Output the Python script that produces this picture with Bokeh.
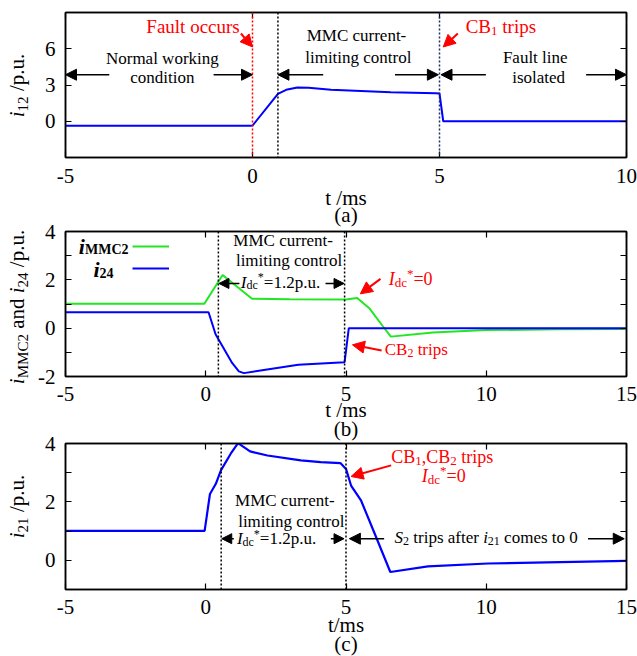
from bokeh.plotting import figure
from bokeh.models import (Span, Arrow, NormalHead, Label, LinearAxis, FixedTicker,
                          Range1d, Legend, LegendItem)
from bokeh.core.properties import value
from bokeh.layouts import column, row
from bokeh.embed import file_html
from bokeh.resources import INLINE

# ---------------- data ----------------
# (a) fault-line current i12
t_a = [-5.0, -0.05, 0.0, 0.68, 0.9, 1.2, 1.5, 2.1, 3.7, 4.9, 5.0, 5.1, 10.0]
i12 = [-0.38, -0.38, -0.36, 2.27, 2.6, 2.8, 2.78, 2.6, 2.4, 2.32, 2.3, 0.0, 0.0]

# (b) MMC2 current and i24
t_mmc2 = [-5.0, -0.05, 0.6, 1.65, 3.0, 5.0, 5.4, 5.85, 6.3, 6.6, 8.1, 10.0, 12.5, 15.0]
i_mmc2 = [1.01, 1.01, 2.2, 1.22, 1.2, 1.19, 1.25, 0.8, 0.1, -0.35, -0.18, -0.08, -0.05, -0.03]
t_24 = [-5.0, 0.1, 0.35, 0.94, 1.18, 1.36, 2.13, 3.3, 4.95, 5.1, 15.0]
i24 = [0.66, 0.66, -0.25, -1.44, -1.79, -1.86, -1.72, -1.51, -1.41, 0.0, 0.0]

# (c) current i21
t_c = [-5.0, -0.04, 0.15, 0.36, 0.54, 0.89, 1.15, 1.58, 2.2, 3.39, 4.1, 4.8, 5.0,
       5.18, 5.54, 6.05, 6.58, 7.92, 10.06, 15.0]
i21 = [1.01, 1.01, 2.27, 2.62, 3.08, 3.65, 4.01, 3.73, 3.59, 3.42, 3.36, 3.33, 3.13,
       2.56, 2.04, 0.85, -0.4, -0.21, -0.11, -0.02]

xticks_a = [-5, 0, 5, 10]
yticks_a = [0, 3, 6]
xticks_bc = [-5, 0, 5, 10, 15]
yticks_b = [-2, 0, 2, 4]
yminor_b = [-1, 1, 3]
yticks_c = [0, 2, 4]
yminor_c = [1, 3]

# event times (ms)
t_fault = 0.0
t_ctrl_a = 0.68
t_ctrl_b = 0.45
t_ctrl_c = 0.55
t_trip = 5.0

FONT = "Liberation Serif"
BLUE = "#0000ff"
GREEN = "#22e622"
RED = "#ff0000"
NAVY = "#1c2d6b"
SHIFT = 6  # baseline correction (px)

# Times-compatible advance widths (1/1000 em)
REG = {}
for ch, w in zip("ABCDEFGHIJKLMNOPQRSTUVWXYZ",
                 [722, 667, 667, 722, 611, 556, 722, 722, 333, 389, 722, 611, 889,
                  722, 722, 556, 722, 667, 556, 611, 722, 722, 944, 722, 722, 611]):
    REG[ch] = w
for ch, w in zip("abcdefghijklmnopqrstuvwxyz",
                 [444, 500, 444, 500, 444, 333, 500, 500, 278, 278, 500, 278, 778,
                  500, 500, 500, 500, 333, 389, 278, 500, 500, 722, 500, 500, 444]):
    REG[ch] = w
for ch in "0123456789":
    REG[ch] = 500
REG.update({" ": 250, ",": 250, ".": 250, "-": 333, "/": 278, "=": 564, "*": 500,
            "(": 333, ")": 333})
BOLD = {"M": 944, "C": 722}
ITAL = {"S": 500}


def text_w(text, size, style):
    tab = dict(REG)
    if "bold" in style:
        tab.update(BOLD)
    if "italic" in style:
        tab.update(ITAL)
    return sum(tab.get(c, 500) for c in text) * size / 1000.0


def rich(p, x, y, segs, color="black", align="left", units="data"):
    total = sum(text_w(s[0], s[1], s[2]) for s in segs)
    off = {"left": 0.0, "center": -total / 2.0, "right": -total}[align]
    for text, size, style, dy in segs:
        lead = len(text) - len(text.lstrip(" "))
        shown = text.strip(" ")
        o = off + lead * 250 * size / 1000.0
        p.add_layout(Label(x=x, y=y, x_units=units, y_units=units, text=shown,
                           text_font=FONT, text_font_size=f"{size}px",
                           text_font_style=style, text_color=color,
                           text_align="left", text_baseline="alphabetic",
                           x_offset=o, y_offset=dy + SHIFT))
        off += text_w(text, size, style)


def rich_v(p, xb, yc, segs, color="black"):
    """Vertical (bottom-to-top) rich text; xb = baseline x, yc = centre y."""
    total = sum(text_w(s[0], s[1], s[2]) for s in segs)
    off = -total / 2.0
    for text, size, style, dy in segs:
        lead = len(text) - len(text.lstrip(" "))
        shown = text.strip(" ")
        ws = text_w(shown, size, style)
        c = off + lead * 250 * size / 1000.0 + ws / 2.0
        mid = xb - 0.34 * size - dy
        p.add_layout(Label(x=mid, y=yc, text=shown, text_font=FONT,
                           text_font_size=f"{size}px", text_font_style=style,
                           text_color=color, text_align="center", text_baseline="middle",
                           angle=90, angle_units="deg", y_offset=c))
        off += text_w(text, size, style)


def arrow(p, x0, y0, x1, y1, color="black", size=11, lw=1.5):
    p.add_layout(Arrow(end=NormalHead(size=size, fill_color=color, line_color=color,
                                      line_width=1),
                       x_start=x0, y_start=y0, x_end=x1, y_end=y1,
                       line_color=color, line_width=lw))


def vline(p, t, color):
    p.add_layout(Span(location=t, dimension="height", line_color=color,
                      line_dash="2 2", line_width=1.5))


def make_fig(width, height, xr, yr, xt, yt, ymin, bl, br, bt, bb, xstand, xlabel,
             lstand, lh, margin=None):
    p = figure(width=width, height=height, x_range=Range1d(*xr), y_range=Range1d(*yr),
               output_backend="svg", toolbar_location=None,
               min_border_left=bl, min_border_right=br, min_border_top=bt,
               min_border_bottom=bb, background_fill_color="white",
               border_fill_color=None)
    if margin is not None:
        p.margin = margin
    p.title.visible = False
    p.xgrid.visible = False
    p.ygrid.visible = False
    p.outline_line_color = "black"
    p.outline_line_width = 1.5
    xtick = FixedTicker(ticks=xt, minor_ticks=[])
    ytick = FixedTicker(ticks=yt, minor_ticks=ymin)
    bottom = p.below[0]
    left = p.left[0]
    bottom.ticker = xtick
    left.ticker = ytick
    bottom.major_label_overrides = {v: str(v) for v in xt}
    left.major_label_overrides = {v: str(v) for v in yt}
    top = LinearAxis(ticker=xtick)
    right = LinearAxis(ticker=ytick)
    p.add_layout(top, "above")
    p.add_layout(right, "right")
    for ax in [bottom, left, top, right]:
        ax.axis_line_color = "black"
        ax.axis_line_width = 1.5
        ax.major_tick_in = 6
        ax.major_tick_out = 0
        ax.minor_tick_in = 6
        ax.minor_tick_out = 0
        ax.major_tick_line_width = 1.2
        ax.minor_tick_line_width = 1.2
        ax.major_tick_line_color = "black"
        ax.minor_tick_line_color = "black"
        ax.major_label_text_font = FONT
        ax.major_label_text_font_size = "21px"
        ax.major_label_text_color = "black"
    for ax in [top, right]:
        ax.major_label_text_font_size = "1px"
        ax.major_label_text_color = None
        ax.major_label_standoff = 0
    bottom.major_label_standoff = xstand
    left.major_label_standoff = 10
    bottom.axis_label = xlabel
    bottom.axis_label_text_font = FONT
    bottom.axis_label_text_font_size = "21px"
    bottom.axis_label_text_font_style = "normal"
    bottom.axis_label_text_color = "black"
    bottom.axis_label_text_line_height = lh
    bottom.axis_label_standoff = lstand
    return p


# ---------------- y-axis titles (one tall strip on the left) ----------------
HT = 656
XB = 23.5  # baseline of the rotated y-axis titles
ylab = figure(width=33, height=HT, x_range=Range1d(0, 33), y_range=Range1d(0, HT),
              output_backend="svg", toolbar_location=None, min_border=0,
              x_axis_type=None, y_axis_type=None, background_fill_color=None,
              border_fill_color=None)
ylab.outline_line_color = None
ylab.title.visible = False
rich_v(ylab, XB, HT - 85, [("i", 21, "italic", 0), ("12", 15, "normal", -4),
                           (" /p.u.", 21, "normal", 0)])
rich_v(ylab, XB, HT - 306.5, [("i", 21, "italic", 0), ("MMC2", 15, "normal", -4),
                              (" and ", 21, "normal", 0), ("i", 21, "italic", 0),
                              ("24", 15, "normal", -4), (" /p.u.", 21, "normal", 0)])
rich_v(ylab, XB, HT - 506, [("i", 21, "italic", 0), ("21", 15, "normal", -4),
                            (" /p.u.", 21, "normal", 0)])

# ---------------- (a) ----------------
pa = make_fig(604, 229, (-5, 10), (-3, 9), xticks_a, yticks_a, [], 32, 9, 12, 72, 11,
              "t /ms\n(a)", 0, 0.72)
pa.line(t_a, i12, line_color=BLUE, line_width=2)
vline(pa, t_fault, RED)
vline(pa, t_ctrl_a, "black")
vline(pa, t_trip, NAVY)

rich(pa, -1.59, 7.32, [("Fault occurs", 19, "normal", 0)], RED, "center")
arrow(pa, -0.31, 7.26, t_fault, 6.15, RED, 12, 2)
rich(pa, -2.41, 4.73, [("Normal working", 17, "normal", 0)], align="center")
rich(pa, -2.41, 3.14, [("condition", 17, "normal", 0)], align="center")
arrow(pa, -3.83, 3.85, -5.0, 3.85)
arrow(pa, -1.04, 3.85, t_fault, 3.85)
rich(pa, 2.78, 6.58, [("MMC current-", 17, "normal", 0)], align="center")
rich(pa, 2.83, 4.81, [("limiting control", 17, "normal", 0)], align="center")
arrow(pa, 1.89, 3.85, t_ctrl_a, 3.85)
arrow(pa, 3.81, 3.85, 4.97, 3.85)
rich(pa, 5.7, 7.32, [("CB", 19, "normal", 0), ("1", 13, "normal", -4),
                     (" trips", 19, "normal", 0)], RED)
arrow(pa, 5.49, 7.26, 5.1, 6.15, RED, 12, 2)
rich(pa, 7.56, 4.81, [("Fault line", 17, "normal", 0)], align="center")
rich(pa, 7.65, 3.14, [("isolated", 17, "normal", 0)], align="center")
arrow(pa, 6.24, 3.85, 5.04, 3.85)
arrow(pa, 8.92, 3.85, 10.0, 3.85)

# ---------------- (b) ----------------
pb = make_fig(604, 227, (-5, 15), (-2, 4), xticks_bc, yticks_b, yminor_b, 32, 9, 12, 70, 10,
              "t /ms\n(b)", -6, 0.8, margin=(-10, 0, 0, 0))
r_g = pb.line(t_mmc2, i_mmc2, line_color=GREEN, line_width=2)
r_b = pb.line(t_24, i24, line_color=BLUE, line_width=2)
vline(pb, t_ctrl_b, "black")
vline(pb, 4.95, "black")

rich(pb, 2.76, 3.38, [("MMC current-", 17, "normal", 0)], align="center")
rich(pb, 2.97, 2.55, [("limiting control", 17, "normal", 0)], align="center")
rich(pb, 1.25, 1.66, [("I", 17, "italic", 0), ("dc", 12, "normal", -3),
                      ("*", 12, "normal", 5), ("=1.2p.u.", 17, "normal", 0)])
arrow(pb, 1.2, 1.85, t_ctrl_b + 0.02, 1.85, size=10)
arrow(pb, 4.27, 1.85, 4.93, 1.85, size=10)
rich(pb, 6.52, 1.77, [("I", 18, "italic", 0), ("dc", 13, "normal", -3),
                      ("*", 13, "normal", 6), ("=0", 18, "normal", 0)], RED)
arrow(pb, 6.23, 2.04, 5.51, 1.42, RED, 12, 2)
rich(pb, 6.38, -1.13, [("CB", 17, "normal", 0), ("2", 12, "normal", -4),
                       (" trips", 17, "normal", 0)], RED)
arrow(pb, 6.27, -0.92, 5.23, -0.69, RED, 12, 2)

leg = Legend(items=[LegendItem(label=value(" "), renderers=[r_g]),
                    LegendItem(label=value(" "), renderers=[r_b])],
             location=(66.7, 98), glyph_width=37, glyph_height=20, label_height=20,
             label_width=0, label_standoff=0, spacing=2, padding=0, margin=0,
             border_line_color=None, background_fill_alpha=0,
             label_text_font_size="1px")
pb.add_layout(leg)
rich(pb, 63, 124.3, [("i", 22, "bold italic", 0), ("MMC2", 14, "bold", -3)],
     align="right", units="screen")
rich(pb, 28, 101, [("i", 22, "bold italic", 0), ("24", 14, "bold", -3)], units="screen")

# ---------------- (c) ----------------
pc = make_fig(604, 232, (-5, 15), (-1, 4), xticks_bc, yticks_c, yminor_c, 31, 11, 12, 74, 10,
              "t/ms\n(c)", -4, 0.8, margin=(-15, 0, -7, 0))
pc.line(t_c, i21, line_color=BLUE, line_width=2.2)
vline(pc, t_ctrl_c, "black")
vline(pc, t_trip, "black")

rich(pc, 2.82, 1.84, [("MMC current-", 17, "normal", 0)], align="center")
rich(pc, 3.05, 1.11, [("limiting control", 17, "normal", 0)], align="center")
rich(pc, 1.11, 0.53, [("I", 17, "italic", 0), ("dc", 12, "normal", -3),
                      ("*", 12, "normal", 5), ("=1.2p.u.", 17, "normal", 0)])
arrow(pc, 1.0, 0.74, t_ctrl_c + 0.02, 0.74, size=10)
arrow(pc, 4.46, 0.74, 4.93, 0.74, size=10)
rich(pc, 8.43, 3.33, [("CB", 18, "normal", 0), ("1", 13, "normal", -4),
                      (",CB", 18, "normal", 0), ("2", 13, "normal", -4),
                      (" trips", 18, "normal", 0)], RED, "center")
rich(pc, 7.7, 2.67, [("I", 18, "italic", 0), ("dc", 13, "normal", -3),
                     ("*", 13, "normal", 6), ("=0", 18, "normal", 0)], RED)
arrow(pc, 6.61, 3.25, 5.18, 2.87, RED, 12, 2)
rich(pc, 6.73, 0.58, [("S", 17, "italic", 0), ("2", 12, "normal", -4),
                      (" trips after ", 17, "normal", 0), ("i", 17, "italic", 0),
                      ("21", 12, "normal", -4), (" comes to 0", 17, "normal", 0)])
arrow(pc, 6.36, 0.74, 5.12, 0.74)
arrow(pc, 13.63, 0.74, 14.92, 0.74)

layout = row(ylab, column(pa, pb, pc, styles={"overflow": "hidden"}),
             styles={"overflow": "hidden"})
open("out.html", "w").write(file_html(layout, INLINE))
